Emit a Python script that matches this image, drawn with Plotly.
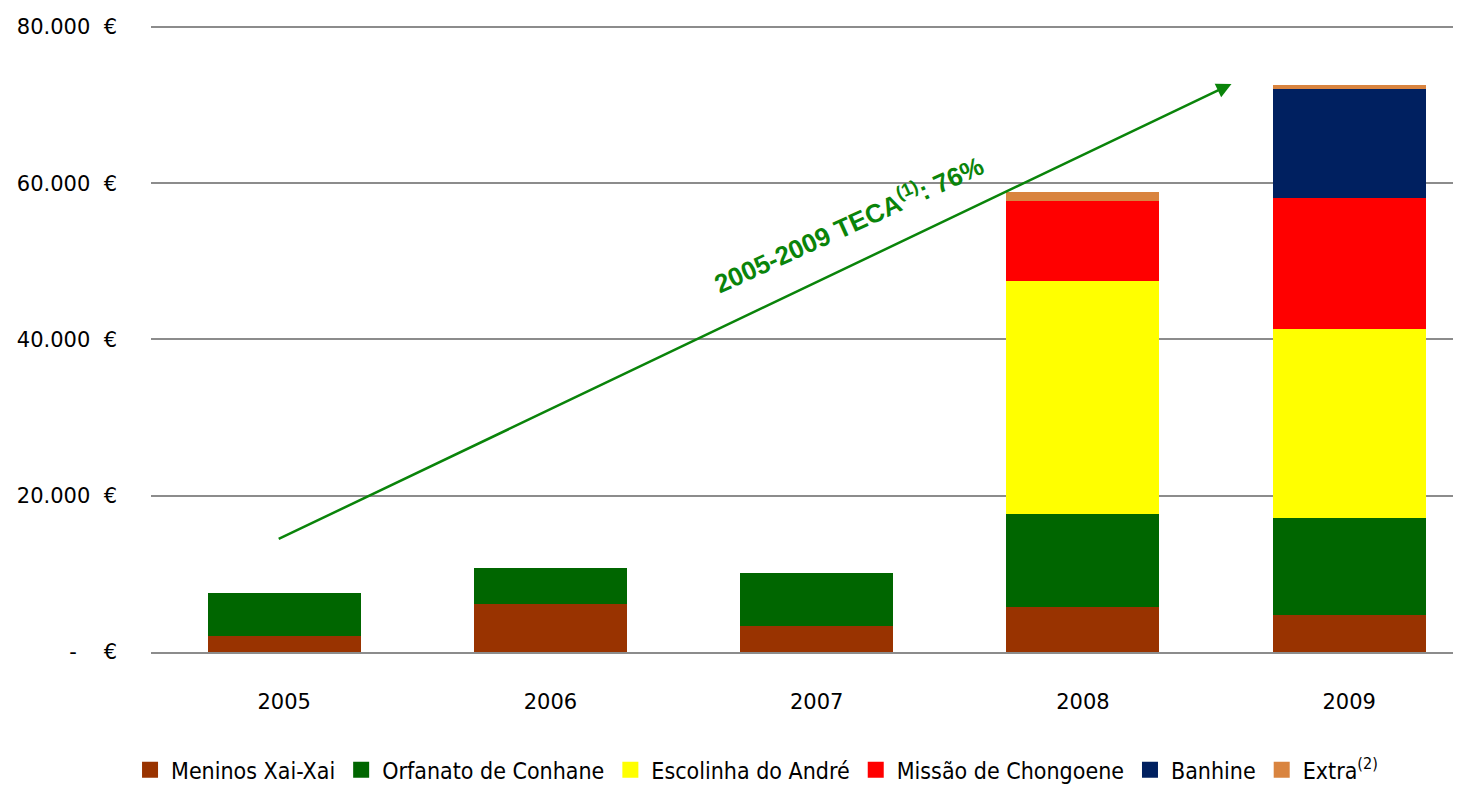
import plotly.graph_objects as go

years = ["2005", "2006", "2007", "2008", "2009"]
meninos = [2000, 6200, 3300, 5700, 4700]
orfanato = [5600, 4600, 6800, 11900, 12400]
escolinha = [0, 0, 0, 29900, 24300]
missao = [0, 0, 0, 10200, 16700]
banhine = [0, 0, 0, 0, 13950]
extra = [0, 0, 0, 1200, 550]

series = [
    ("Meninos Xai-Xai", meninos, "#993300"),
    ("Orfanato de Conhane", orfanato, "#006600"),
    ("Escolinha do André", escolinha, "#FFFF00"),
    ("Missão de Chongoene", missao, "#FF0000"),
    ("Banhine", banhine, "#002060"),
    ("Extra<sup>(2)</sup>", extra, "#D9843F"),
]

ytickvals = [0, 20000, 40000, 60000, 80000]
yticktext = ["-\u00a0\u00a0\u00a0\u00a0€", "20.000\u00a0\u00a0€", "40.000\u00a0\u00a0€",
             "60.000\u00a0\u00a0€", "80.000\u00a0\u00a0€"]

fig = go.Figure()
for name, vals, col in series:
    fig.add_trace(go.Bar(x=years, y=vals, name=name, legendgroup=name, showlegend=False,
                         marker=dict(color=col, line=dict(width=0))))
    # legend entry with a larger square swatch
    fig.add_trace(go.Scatter(x=[None], y=[None], mode="markers", name=name, legendgroup=name,
                             marker=dict(symbol="square", size=17, color=col), showlegend=True))

font_main = "DejaVu Sans"
fig.update_layout(
    barmode="stack",
    bargap=0.425,
    width=1461, height=788,
    margin=dict(l=143, r=8, t=17, b=144, autoexpand=False),
    paper_bgcolor="white", plot_bgcolor="white",
    font=dict(family=font_main, color="black", size=20),
    showlegend=True,
    legend=dict(
        orientation="h", xref="container", yref="container",
        x=0.512, xanchor="center", y=0.006, yanchor="bottom",
        font=dict(family="DejaVu Sans Condensed, DejaVu Sans", size=23), traceorder="normal",
        itemsizing="trace", itemwidth=32,
    ),
    xaxis=dict(
        range=[-0.5, 4.42], showgrid=False, showline=True, linecolor="#8c8c8c", linewidth=2,
        ticks="", tickfont=dict(size=21), ticklabelstandoff=30, automargin=False,
    ),
    yaxis=dict(
        range=[0, 80250], tickvals=ytickvals, ticktext=yticktext,
        showgrid=True, gridcolor="#8c8c8c", gridwidth=1.5, zeroline=False,
        showline=False, ticks="", tickfont=dict(size=21), ticklabelstandoff=33, automargin=False,
    ),
)

# CAGR arrow
fig.add_annotation(
    x=3.558, y=72700, ax=-0.026, ay=14380, xref="x", yref="y", axref="x", ayref="y",
    showarrow=True, arrowhead=2, arrowsize=1.2, arrowwidth=2.5, arrowcolor="#0A840A", text="",
)
fig.add_annotation(
    x=2.12, y=54900, xref="x", yref="y", showarrow=False,
    text="<b>2005-2009 TECA<sup>(1)</sup>: 76%</b>", textangle=-24.5,
    font=dict(family="Liberation Sans", size=26, color="#0A840A"),
)

fig.write_html("out.html")
